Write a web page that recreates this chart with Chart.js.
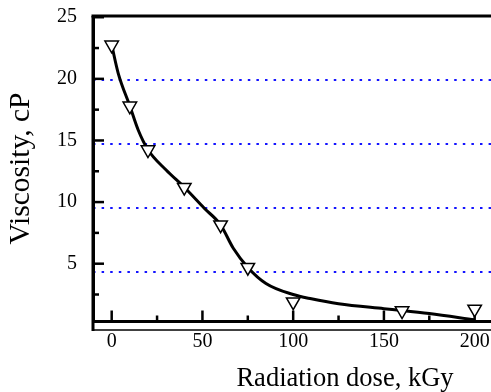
<!DOCTYPE html>
<html>
<head>
<meta charset="utf-8">
<script src="https://cdn.jsdelivr.net/npm/chart.js@4"></script>
<style>
html,body{margin:0;padding:0;background:#fff;}
#c{display:block;}
</style>
</head>
<body>
<canvas id="c" width="491" height="392"></canvas>
<script>
// Measured points (open down-triangles)
const doseMeasured = [0, 10, 20, 40, 60, 75, 100, 160, 200];
const viscosityMeasured = [22.75, 17.8, 14.25, 11.2, 8.15, 4.7, 1.9, 1.18, 1.32];
// Fitted curve
const doseFit = [0, 3.6, 10, 14.6, 20, 30, 40, 51, 60, 67, 75, 85, 100, 110, 125, 150, 160, 175, 200];
const viscosityFit = [22.75, 20.45, 17.8, 15.85, 14.25, 12.6, 11.2, 9.5, 8.15, 6.25, 4.7, 3.4, 2.5, 2.15, 1.75, 1.35, 1.2, 0.95, 0.45];
// Axis ticks
const xTickValues = [0, 25, 50, 75, 100, 125, 150, 175, 200];
const yTickValues = [2.5, 5, 7.5, 10, 12.5, 15, 17.5, 20, 22.5, 25];
const gridValues = [5, 10, 15, 20];
const xTitle = 'Radiation dose, kGy';
const yTitle = 'Viscosity, cP';

const serif = 'Liberation Serif';

const zeroPad = () => ({left: 0, top: 0, right: 0, bottom: 0});
const noPad = s => {
  s.paddingTop = 0; s.paddingBottom = 0; s.paddingLeft = 0; s.paddingRight = 0;
  s.getPadding = zeroPad;
};

const decor = {
  id: 'decor',
  beforeDatasetsDraw(chart) {
    const {ctx, chartArea: a, scales} = chart;
    const xs = scales.x, ys = scales.y;
    ctx.save();
    ctx.strokeStyle = '#000';
    ctx.lineCap = 'butt';
    // top frame line
    ctx.lineWidth = 3;
    ctx.beginPath();
    ctx.moveTo(a.left - 1.5, a.top);
    ctx.lineTo(a.right, a.top);
    ctx.stroke();
    // left axis extension below x axis
    ctx.beginPath();
    ctx.moveTo(a.left, a.top);
    ctx.lineTo(a.left, a.bottom + 10);
    ctx.stroke();
    // thin lower line
    ctx.lineWidth = 1.5;
    ctx.beginPath();
    ctx.moveTo(a.left, a.bottom + 9);
    ctx.lineTo(a.right, a.bottom + 9);
    ctx.stroke();
    // inner ticks
    ctx.lineWidth = 2.5;
    xTickValues.forEach(v => {
      const px = xs.getPixelForValue(v);
      const len = v % 50 === 0 ? 10.5 : 5.5;
      ctx.beginPath();
      ctx.moveTo(px, a.bottom);
      ctx.lineTo(px, a.bottom - len);
      ctx.stroke();
    });
    yTickValues.forEach(v => {
      const py = ys.getPixelForValue(v);
      const len = v % 5 === 0 ? 11 : 6;
      ctx.beginPath();
      ctx.moveTo(a.left, py);
      ctx.lineTo(a.left + len, py);
      ctx.stroke();
    });
    // x axis title
    ctx.fillStyle = '#000';
    ctx.font = '26.5px "' + serif + '"';
    ctx.textAlign = 'center';
    ctx.textBaseline = 'alphabetic';
    ctx.fillText(xTitle, a.right - 146, 386);
    ctx.restore();
  }
};

new Chart(document.getElementById('c'), {
  type: 'scatter',
  data: {
    datasets: [
      {
        label: 'Measured',
        data: doseMeasured.map((x, i) => ({x, y: viscosityMeasured[i]})),
        showLine: false,
        pointStyle: 'triangle',
        rotation: 180,
        pointRadius: 7.8,
        pointBorderWidth: 1.5,
        pointBackgroundColor: '#fff',
        pointBorderColor: '#000',
        order: 0
      },
      {
        label: 'Fit',
        data: doseFit.map((x, i) => ({x, y: viscosityFit[i]})),
        showLine: true,
        borderColor: '#000',
        borderWidth: 3,
        pointRadius: 0,
        cubicInterpolationMode: 'monotone',
        fill: false,
        order: 1
      }
    ]
  },
  options: {
    responsive: false,
    animation: false,
    devicePixelRatio: 1,
    layout: {autoPadding: false, padding: {top: 16, right: 0, left: 0, bottom: 0}},
    plugins: {legend: {display: false}, tooltip: {enabled: false}},
    scales: {
      x: {
        type: 'linear',
        position: 'bottom',
        min: -10.3,
        max: 209,
        afterBuildTicks: s => { s.ticks = xTickValues.map(v => ({value: v})); },
        afterFit: s => { s.height = 71; noPad(s); },
        grid: {display: false, drawTicks: false},
        border: {display: true, color: '#000', width: 3},
        ticks: {
          color: '#000',
          font: {family: serif, size: 20},
          padding: 9,
          maxRotation: 0,
          autoSkip: false,
          callback: v => (v % 50 === 0 ? String(v) : '')
        }
      },
      y: {
        type: 'linear',
        position: 'left',
        min: 0.35,
        max: 25.1,
        afterBuildTicks: s => { s.ticks = yTickValues.map(v => ({value: v})); },
        afterFit: s => { s.width = 93; noPad(s); },
        grid: {display: false, drawTicks: false},
        border: {display: true, color: '#000', width: 3},
        ticks: {
          color: '#000',
          font: {family: serif, size: 20},
          padding: 16,
          autoSkip: false,
          callback: v => (v % 5 === 0 ? String(v) : '')
        },
        title: {
          display: true,
          text: yTitle,
          color: '#000',
          font: {family: serif, size: 29.5},
          padding: {top: 4, bottom: 0}
        }
      },
      yg: {
        type: 'linear',
        position: 'left',
        min: 1.14,
        max: 25.0,
        afterBuildTicks: s => { s.ticks = gridValues.map(v => ({value: v})); },
        afterFit: s => { s.width = 0; noPad(s); },
        ticks: {display: false},
        grid: {display: true, drawTicks: false, color: '#1414ff', lineWidth: 2},
        border: {display: false, dash: [2.5, 6.1]}
      }
    }
  },
  plugins: [decor]
});
</script>
</body>
</html>
